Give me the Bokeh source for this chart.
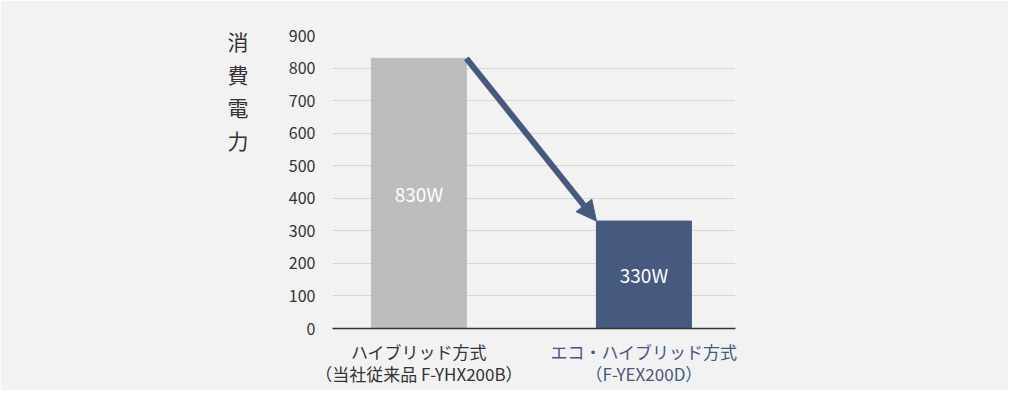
from bokeh.plotting import figure
from bokeh.models import (Range1d, FixedTicker, LinearAxis, Arrow, NormalHead,
                          ColumnDataSource)
from bokeh.core.properties import value
from bokeh.embed import file_html
from bokeh.resources import INLINE

# ---- data ----
cat_line1 = ["ハイブリッド方式", "エコ・ハイブリッド方式"]
cat_line2 = ["（当社従来品 F-YHX200B）", "（F-YEX200D）"]
power_w = [830, 330]
bar_labels = ["830W", "330W"]
y_ticks = [0, 100, 200, 300, 400, 500, 600, 700, 800, 900]
y_title = "消\n費\n電\n力"

# ---- style ----
FONT = "Noto Sans CJK JP"
BG = "#f2f2f2"
GRAY = "#bdbdbd"
BLUE = "#465a80"
TEXT = "#333333"
bar_colors = [GRAY, BLUE]
cat_colors = [TEXT, "#45597e"]

xs = [i + 0.5 for i in range(len(power_w))]
bar_w = 0.422

p = figure(width=1008, height=390, output_backend="svg", toolbar_location=None,
           x_range=Range1d(0.116, 1.907), y_range=Range1d(0, 900),
           min_border_left=332, min_border_right=273,
           min_border_top=35, min_border_bottom=62)
p.background_fill_color = BG
p.border_fill_color = BG
p.outline_line_color = None

src = ColumnDataSource(dict(x=xs, top=power_w, color=bar_colors,
                            mid=[v / 2 for v in power_w], lab=bar_labels))
p.vbar(x="x", top="top", width=bar_w, bottom=0, color="color", source=src)
p.text(x="x", y="mid", text="lab", source=src, text_color="white",
       text_font=value(FONT), text_font_size="19px", text_align="center",
       text_baseline="middle")

# grid
p.xgrid.visible = False
p.ygrid.ticker = FixedTicker(ticks=y_ticks)
p.ygrid.grid_line_color = "#d6d6d6"
p.ygrid.grid_line_width = 1

# y axis
ya = p.yaxis[0]
ya.ticker = FixedTicker(ticks=y_ticks)
ya.axis_line_color = None
ya.major_tick_line_color = None
ya.minor_tick_line_color = None
ya.major_tick_out = 0
ya.major_tick_in = 0
ya.major_label_standoff = 17
ya.major_label_text_font = FONT
ya.major_label_text_font_size = "16px"
ya.major_label_text_color = TEXT

# vertical title as an outer left axis label
title_pos = 731
ta = LinearAxis(ticker=FixedTicker(ticks=[title_pos]),
                major_label_overrides={title_pos: y_title},
                axis_line_color=None, major_tick_line_color=None,
                minor_tick_line_color=None, major_tick_out=0, major_tick_in=0,
                major_label_standoff=37, major_label_text_font=FONT,
                major_label_text_font_size="21px", major_label_text_color=TEXT,
                major_label_text_line_height=1.1)
p.add_layout(ta, "left")

# x axis: baseline + first category label
STANDOFF = 10
LINE_H = 0.9
BLOCK_H = 51
xa = p.xaxis[0]
xa.ticker = FixedTicker(ticks=[xs[0]])
xa.major_label_overrides = {xs[0]: cat_line1[0] + "\n" + cat_line2[0]}
xa.axis_line_color = "#333333"
xa.axis_line_width = 1.5
xa.major_tick_line_color = None
xa.minor_tick_line_color = None
xa.major_tick_out = 0
xa.major_tick_in = 0
xa.major_label_standoff = STANDOFF
xa.major_label_text_font = FONT
xa.major_label_text_font_size = "17px"
xa.major_label_text_color = cat_colors[0]
xa.major_label_text_line_height = LINE_H

# second category label on its own axis (different colour), pulled up to the same row
xb = LinearAxis(ticker=FixedTicker(ticks=[xs[1]]),
                major_label_overrides={xs[1]: cat_line1[1] + "\n" + cat_line2[1]},
                axis_line_color=None, major_tick_line_color=None,
                minor_tick_line_color=None, major_tick_out=0, major_tick_in=0,
                major_label_standoff=-BLOCK_H,
                major_label_text_font=FONT, major_label_text_font_size="17px",
                major_label_text_color=cat_colors[1],
                major_label_text_line_height=LINE_H)
p.add_layout(xb, "below")

# arrow from top-right of bar 1 to top-left of bar 2
p.add_layout(Arrow(end=NormalHead(size=20, fill_color=BLUE, line_color=BLUE),
                   x_start=xs[0] + bar_w / 2, y_start=power_w[0],
                   x_end=xs[1] - bar_w / 2, y_end=power_w[1],
                   line_color=BLUE, line_width=6))

open("out.html", "w").write(file_html(p, INLINE))
